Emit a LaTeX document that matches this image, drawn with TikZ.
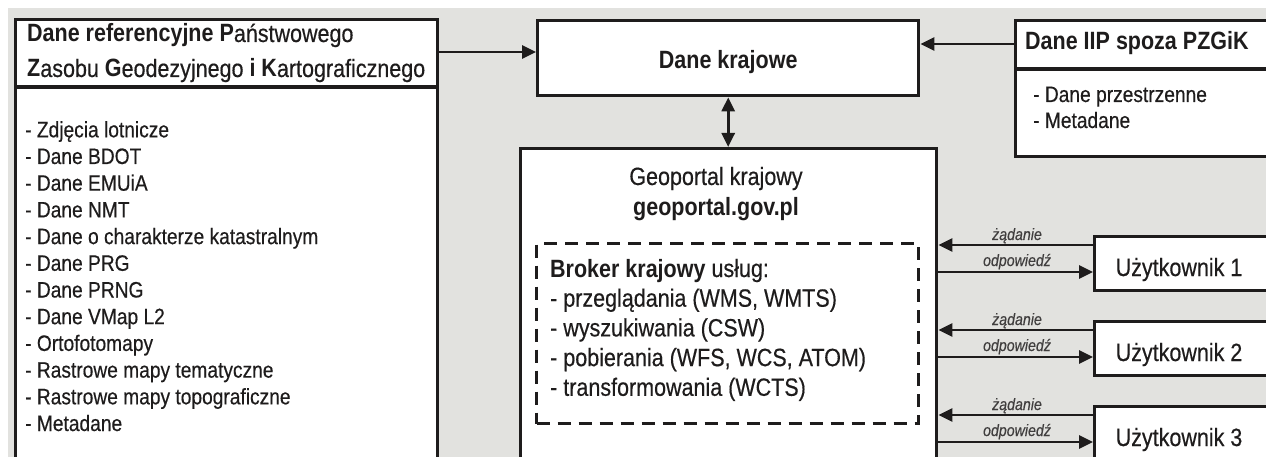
\documentclass[tikz,border=0pt]{standalone}
\usepackage{fontspec}
\setmainfont{Liberation Sans}[FakeStretch=0.86,UprightFeatures={FakeBold=0.4},ItalicFeatures={FakeBold=0.4}]
\usetikzlibrary{arrows.meta}
\definecolor{bg}{RGB}{226,226,223}
\definecolor{ink}{RGB}{30,28,28}
\begin{document}
\begin{tikzpicture}[x=1pt,y=-1pt,
  box/.style={draw=ink,line width=3.4pt,fill=white,rectangle,anchor=north west,inner sep=0pt},
  big/.style={font=\fontsize{25}{30}\selectfont,text=ink,inner sep=0pt},
  bigb/.style={font=\fontsize{25}{30}\selectfont\bfseries,text=ink,inner sep=0pt},
  small/.style={font=\fontsize{22.3}{26}\selectfont,text=ink,inner sep=0pt,anchor=base west},
  lab/.style={font=\fontsize{16.5}{18}\selectfont\itshape,text=ink!85,inner sep=0pt,anchor=base},
  arr/.style={draw=ink,line width=2.8pt,-{Triangle[length=14pt,width=13pt]}},
  darr/.style={draw=ink,line width=2.8pt,{Triangle[length=14pt,width=13pt]}-{Triangle[length=14pt,width=13pt]}},
  divider/.style={draw=ink,line width=3.4pt},
  dashbox/.style={draw=ink,line width=3pt,dash pattern=on 13pt off 8pt,rectangle,anchor=north west,inner sep=0pt}
]
\useasboundingbox (0,0) rectangle (1266,457);
\clip (0,0) rectangle (1266,457);
\fill[white] (0,0) rectangle (1266,457);
\fill[bg] (8,8) rectangle (1270,460);

% left box
\node[box,minimum width=422pt,minimum height=470pt] (pzgik) at (14,18) {};
\draw[divider] (pzgik.west |- 0,87) -- (pzgik.east |- 0,87);
\node[big,anchor=base west] (h1) at (27,42) {\textbf{Dane referencyjne P}aństwowego};
\node[big,anchor=base west] (h2) at (27,77) {\textbf{Z}asobu \textbf{G}eodezyjnego \textbf{i} \textbf{K}artograficznego};
\foreach \t [count=\i] in {Zdjęcia lotnicze, Dane BDOT, Dane EMUiA, Dane NMT, Dane o charakterze katastralnym, Dane PRG, Dane PRNG, Dane VMap L2, Ortofotomapy, Rastrowe mapy tematyczne, Rastrowe mapy topograficzne, Metadane}{
  \pgfmathsetmacro\yy{137.3+(\i-1)*26.7}
  \node[small] (p\i) at (25,\yy) {- \t};
}

% Dane krajowe
\node[box,minimum width=381pt,minimum height=75pt] (kraj) at (536,19) {};
\node[bigb,anchor=base] (krajt) at (kraj.center |- 0,69) {Dane krajowe};

% Dane IIP
\node[box,minimum width=270pt,minimum height=136pt] (iip) at (1014,19) {};
\draw[divider] (iip.west |- 0,69) -- (iip.east |- 0,69);
\node[bigb,anchor=base west] (iiph) at (1025,50) {Dane IIP spoza PZGiK};
\node[small] (iip1) at (1033,102) {- Dane przestrzenne};
\node[small] (iip2) at (1033,128) {- Metadane};

% Geoportal
\node[box,minimum width=416pt,minimum height=330pt] (geo) at (519,147) {};
\node[big,anchor=base] (g1) at (716,185) {Geoportal krajowy};
\node[bigb,anchor=base] (g2) at (716,215) {geoportal.gov.pl};
\node[dashbox,minimum width=382pt,minimum height=180pt] (broker) at (535,242) {};
\node[big,anchor=base west] (b0) at (550,277) {\textbf{Broker krajowy} usług:};
\node[big,anchor=base west] (b1) at (550,306.7) {- przeglądania (WMS, WMTS)};
\node[big,anchor=base west] (b2) at (550,336.4) {- wyszukiwania (CSW)};
\node[big,anchor=base west] (b3) at (550,366.1) {- pobierania (WFS, WCS, ATOM)};
\node[big,anchor=base west] (b4) at (550,395.8) {- transformowania (WCTS)};

% connectors top
\draw[arr] (pzgik.east |- 0,52) -- (kraj.west |- 0,52);
\draw[arr] (iip.west |- 0,44) -- (kraj.east |- 0,44);
\draw[darr] (kraj.south) -- (kraj.south |- geo.north);

% users
\foreach \k in {1,2,3}{
  \pgfmathsetmacro\yt{235+(\k-1)*85}
  \pgfmathsetmacro\ya{245+(\k-1)*85}
  \pgfmathsetmacro\yb{272+(\k-1)*85}
  \pgfmathsetmacro\yl{240+(\k-1)*85}
  \pgfmathsetmacro\yo{266+(\k-1)*85}
  \pgfmathsetmacro\yu{276+(\k-1)*85}
  \node[box,minimum width=190pt,minimum height=54pt] (u\k) at (1093,\yt) {};
  \node[big,anchor=base] (ut\k) at (1179,\yu) {Użytkownik \k};
  \draw[arr] (u\k.west |- 0,\ya) -- (geo.east |- 0,\ya);
  \draw[arr] (geo.east |- 0,\yb) -- (u\k.west |- 0,\yb);
  \node[lab] (zq\k) at (1017,\yl) {żądanie};
  \node[lab] (od\k) at (1017,\yo) {odpowiedź};
}
\end{tikzpicture}
\end{document}
